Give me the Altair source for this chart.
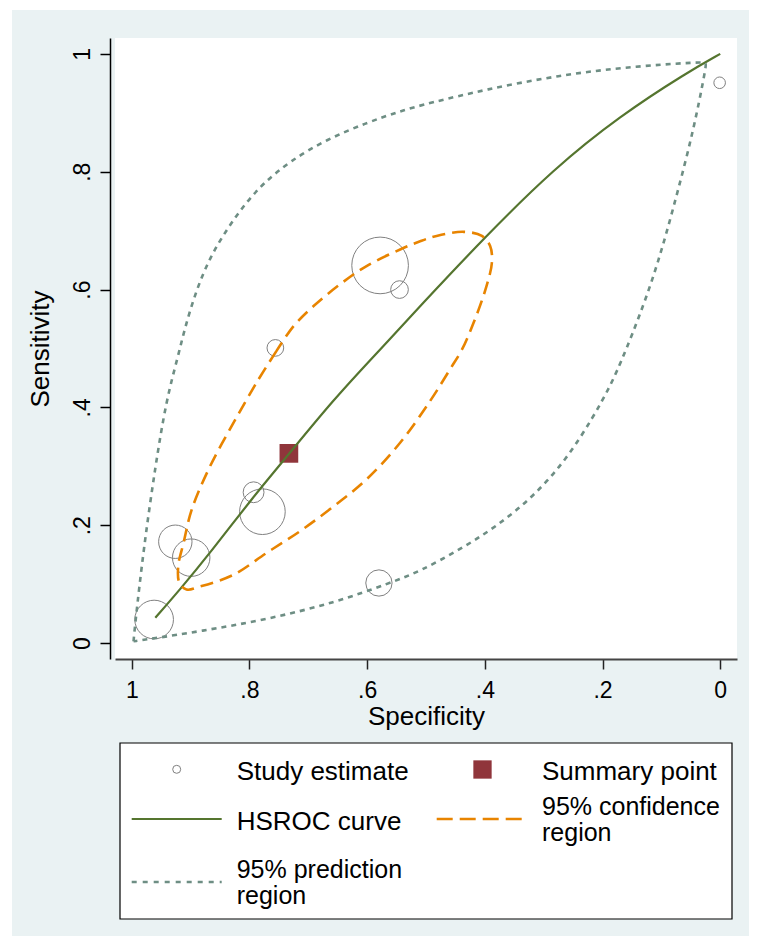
import altair as alt
import pandas as pd

FONT = "Liberation Sans"

# ---- data ----
study_spec = [0.001, 0.578, 0.545, 0.756, 0.793, 0.778, 0.926, 0.899, 0.580, 0.962]
study_sens = [0.951, 0.641, 0.600, 0.501, 0.256, 0.223, 0.172, 0.145, 0.102, 0.040]
study_weight = [1.2, 28.8, 2.8, 2.5, 3.9, 18.7, 10.0, 12.6, 6.2, 13.4]

summary_spec = [0.733]
summary_sens = [0.322]

curve_spec = [0.960, 0.918, 0.867, 0.793, 0.745, 0.657, 0.578, 0.510, 0.402, 0.283, 0.170, 0.057, 0.000]
curve_sens = [0.043, 0.091, 0.153, 0.249, 0.306, 0.414, 0.498, 0.572, 0.687, 0.805, 0.895, 0.968, 1.000]

ci_spec = [0.754, 0.788, 0.827, 0.867, 0.898, 0.912, 0.921, 0.919, 0.907, 0.884, 0.827, 0.771,
           0.714, 0.657, 0.601, 0.544, 0.493, 0.459, 0.439, 0.419, 0.399, 0.388, 0.391, 0.405,
           0.436, 0.482, 0.510, 0.544, 0.601, 0.646, 0.691, 0.725, 0.754]
ci_sens = [0.496, 0.442, 0.374, 0.300, 0.227, 0.170, 0.131, 0.102, 0.091, 0.096, 0.116, 0.153,
           0.190, 0.232, 0.278, 0.340, 0.411, 0.465, 0.498, 0.544, 0.600, 0.646, 0.674, 0.691,
           0.698, 0.691, 0.682, 0.668, 0.640, 0.609, 0.572, 0.538, 0.496]

pred_spec = [0.997, 0.994, 0.980, 0.960, 0.941, 0.922, 0.909, 0.890, 0.867, 0.838, 0.808, 0.776,
             0.731, 0.669, 0.601, 0.544, 0.493, 0.397, 0.283, 0.170, 0.028, 0.024, 0.025, 0.045,
             0.074, 0.113, 0.164, 0.187, 0.215, 0.261, 0.317, 0.380, 0.442, 0.510, 0.561, 0.657,
             0.771, 0.884, 0.969, 0.997]
pred_sens = [0.003, 0.035, 0.159, 0.300, 0.414, 0.484, 0.538, 0.600, 0.655, 0.703, 0.745, 0.781,
             0.818, 0.855, 0.883, 0.903, 0.917, 0.940, 0.962, 0.977, 0.987, 0.984, 0.974, 0.872,
             0.759, 0.617, 0.487, 0.436, 0.385, 0.312, 0.249, 0.198, 0.159, 0.122, 0.102, 0.068,
             0.040, 0.020, 0.007, 0.003]

tick_values = [0, 0.2, 0.4, 0.6, 0.8, 1]
legend_labels = ["Study estimate", "Summary point", "HSROC curve",
                 ["95% confidence", "region"], ["95% prediction", "region"]]

# ---- colours (Stata s2color) ----
BG = "#EAF2F3"
GREEN = "#55752F"
ORANGE = "#E88400"
TEAL = "#6E8E84"
MAROON = "#90353B"
CIRCLE = "#808080"

W, H = 622, 621

studies = pd.DataFrame({"spec": study_spec, "sens": study_sens, "w": study_weight})
summary = pd.DataFrame({"spec": summary_spec, "sens": summary_sens})
curve = pd.DataFrame({"spec": curve_spec, "sens": curve_sens, "i": range(len(curve_spec))})
ci = pd.DataFrame({"spec": ci_spec, "sens": ci_sens, "i": range(len(ci_spec))})
pred = pd.DataFrame({"spec": pred_spec, "sens": pred_sens, "i": range(len(pred_spec))})
one = pd.DataFrame({"k": [0]})

lbl = "datum.value == 0 ? '0' : datum.value == 1 ? '1' : '.' + format(datum.value * 10, 'd')"

xscale = alt.Scale(domain=[-0.0285, 1.0285], reverse=True, nice=False, zero=False)
yscale = alt.Scale(domain=[-0.027, 1.027], nice=False, zero=False)

xaxis = alt.Axis(values=tick_values, labelExpr=lbl, grid=False, tickSize=10, tickWidth=1.5,
                 tickColor="#222222", domainColor="#444444", domainWidth=2,
                 labelFontSize=23, labelPadding=10, labelColor="black", labelFont=FONT,
                 title="Specificity", titleFontSize=26, titleFontWeight="normal", titleFont=FONT,
                 titleColor="black", titleX=W / 2, titleY=65, titleBaseline="alphabetic",
                 titleAlign="center", labelOverlap=False, labelFlush=False, zindex=1)
yaxis = alt.Axis(values=tick_values, labelExpr=lbl, grid=False, tickSize=10, tickWidth=1.5,
                 tickColor="black", domainColor="black", domainWidth=1.5, offset=5,
                 labelFontSize=23, labelPadding=11, labelColor="black", labelFont=FONT,
                 labelAngle=270, labelAlign="center", labelBaseline="alphabetic",
                 title="Sensitivity", titleFontSize=26, titleFontWeight="normal", titleFont=FONT,
                 titleColor="black", titleAngle=270, titleX=-62, titleY=H / 2,
                 titleBaseline="alphabetic", titleAlign="center",
                 labelOverlap=False, labelFlush=False, zindex=1)

X = alt.X("spec:Q", scale=xscale, axis=xaxis)
Y = alt.Y("sens:Q", scale=yscale, axis=yaxis)

# background panels (decoration)
outer = alt.Chart(one).mark_rect(fill=BG, strokeWidth=0).encode(
    x=alt.value(-103), x2=alt.value(634), y=alt.value(-28), y2=alt.value(898))
inner = alt.Chart(one).mark_rect(fill="white", strokeWidth=0).encode(
    x=alt.value(0), x2=alt.value(W), y=alt.value(0), y2=alt.value(H))

pts = alt.Chart(studies).mark_point(shape="circle", filled=False, color=CIRCLE,
                                    strokeWidth=1, opacity=1).encode(
    x=X, y=Y,
    size=alt.Size("w:Q", scale=alt.Scale(domain=[0, 100], range=[0, 11144]), legend=None))
summ = alt.Chart(summary).mark_square(size=350, color=MAROON, opacity=1).encode(x=X, y=Y)
hsroc = alt.Chart(curve).mark_line(color=GREEN, strokeWidth=2.2, interpolate="basis").encode(
    x=X, y=Y, order="i:Q")
conf = alt.Chart(ci).mark_line(color=ORANGE, strokeWidth=2.6, strokeDash=[13, 7],
                               interpolate="catmull-rom").encode(x=X, y=Y, order="i:Q")
predr = alt.Chart(pred).mark_line(color=TEAL, strokeWidth=2.6, strokeDash=[5, 5],
                                  interpolate="basis").encode(x=X, y=Y, order="i:Q")

# legend (decoration)
box = alt.Chart(one).mark_rect(fill="white", stroke="black", strokeWidth=1.2).encode(
    x=alt.value(5), x2=alt.value(617), y=alt.value(705), y2=alt.value(881))


def txt(label, x, y, size=26, lh=26):
    return alt.Chart(one).mark_text(align="left", baseline="alphabetic", fontSize=size,
                                    lineHeight=lh, font=FONT, color="black").encode(
        x=alt.value(x), y=alt.value(y), text=alt.value(label))


lg_circle = alt.Chart(one).mark_point(shape="circle", filled=False, color=CIRCLE,
                                      strokeWidth=1, size=64, opacity=1).encode(
    x=alt.value(61.7), y=alt.value(731.3))
lg_square = alt.Chart(one).mark_square(size=335, color=MAROON, opacity=1).encode(
    x=alt.value(367.5), y=alt.value(731.5))
lg_green = alt.Chart(one).mark_rule(color=GREEN, strokeWidth=2.2).encode(
    x=alt.value(16.7), x2=alt.value(106.7), y=alt.value(781))
lg_orange = alt.Chart(one).mark_rule(color=ORANGE, strokeWidth=2.6, strokeDash=[16, 7]).encode(
    x=alt.value(321.7), x2=alt.value(412), y=alt.value(781))
lg_teal = alt.Chart(one).mark_rule(color=TEAL, strokeWidth=2.6, strokeDash=[5, 6]).encode(
    x=alt.value(16.7), x2=alt.value(106.7), y=alt.value(844))

chart = alt.layer(
    outer, inner, pts, summ, hsroc, conf, predr,
    box, lg_circle, txt(legend_labels[0], 121.7, 742),
    lg_square, txt(legend_labels[1], 427, 742),
    lg_green, txt(legend_labels[2], 121.7, 792),
    lg_orange, txt(legend_labels[3], 427, 776.5, 25, 26),
    lg_teal, txt(legend_labels[4], 121.7, 839.5, 25, 26),
).properties(
    width=W, height=H,
    autosize=alt.AutoSizeParams(type="none"),
    padding={"left": 107, "top": 30, "right": 12, "bottom": 277},
    background="white",
).configure_view(stroke=None, fill=None).configure(font=FONT)

chart.save("out.html", embed_options={"renderer": "svg", "actions": False})
